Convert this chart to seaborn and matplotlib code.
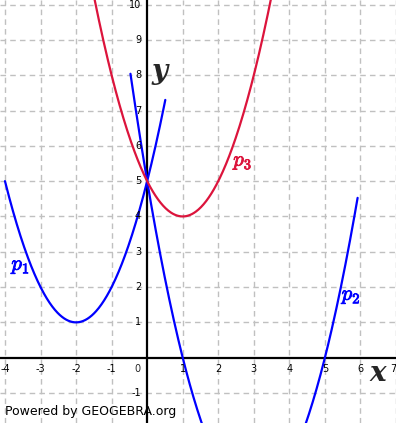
import numpy as np
import pandas as pd
import matplotlib
matplotlib.use("Agg")
import matplotlib.pyplot as plt
import matplotlib.patheffects as pe
import seaborn as sns

# ---- data ----
curve_names = ["p1", "p2", "p3"]
vertex_x = [-2.0, 3.0, 1.0]          # vertex positions
vertex_y = [1.0, -4.0, 4.0]
lead_coef = [1.0, 1.0, 1.0]
domain_start = [-4.0, -0.47, -1.7]
domain_end = [0.51, 5.92, 3.7]
curve_colors = ["#0000ff", "#0000ff", "#dc143c"]
label_x = [-3.55, 5.75, 2.7]
label_y = [2.6, 1.75, 5.55]
label_text = [r"$p_1$", r"$p_2$", r"$p_3$"]

x_ticks = [-4, -3, -2, -1, 1, 2, 3, 4, 5, 6, 7]
y_ticks = [-1, 1, 2, 3, 4, 5, 6, 7, 8, 9, 10]

rows = []
for name, vx, vy, a, x0, x1 in zip(curve_names, vertex_x, vertex_y, lead_coef,
                                    domain_start, domain_end):
    xs = np.linspace(x0, x1, 300)
    for xv in xs:
        rows.append({"curve": name, "x": xv, "y": a * (xv - vx) ** 2 + vy})
df = pd.DataFrame(rows)

sns.set_style("white")
plt.rcParams["mathtext.fontset"] = "cm"

fig = plt.figure(figsize=(3.96, 4.23), dpi=100)
ax = fig.add_axes([0, 0, 1, 1])
xmin, xmax = -4.14, 7.0
ymin, ymax = -1.85, 10.13
ax.set_xlim(xmin, xmax)
ax.set_ylim(ymin, ymax)

# grid
for gx in range(-4, 8):
    if gx != 0:
        ax.axvline(gx, color="#c0c0c0", lw=1, ls=(0, (4, 3)), zorder=0)
for gy in range(-1, 11):
    if gy != 0:
        ax.axhline(gy, color="#c0c0c0", lw=1, ls=(0, (4, 3)), zorder=0)

# axes
ax.axhline(0, color="black", lw=1.6, zorder=1)
ax.axvline(0, color="black", lw=1.6, zorder=1)

sns.lineplot(data=df, x="x", y="y", hue="curve", palette=dict(zip(curve_names, curve_colors)),
             sort=False, estimator=None, lw=1.6, legend=False, ax=ax, zorder=3)

for s in ax.spines.values():
    s.set_visible(False)
ax.set_xticks([])
ax.set_yticks([])
ax.set_xlabel("")
ax.set_ylabel("")

for t in x_ticks:
    if t == 7:
        ax.text(t + 0.02, -0.32, str(t), ha="right", va="center", fontsize=7, color="black")
    else:
        ax.text(t, -0.32, str(t), ha="center", va="center", fontsize=7, color="black")
ax.text(-0.27, -0.32, "0", ha="center", va="center", fontsize=7)
for t in y_ticks:
    ax.text(-0.17, t, str(t), ha="right", va="center", fontsize=7, color="black")

for lx, ly, lt, c in zip(label_x, label_y, label_text, curve_colors):
    ax.text(lx, ly, lt, color=c, fontsize=15, ha="center", va="center",
            path_effects=[pe.withStroke(linewidth=0.6, foreground=c)])

ax.text(6.5, -0.45, "x", family="DejaVu Serif", style="italic", weight="bold",
        fontsize=20, ha="center", va="center")
ax.text(0.35, 8.1, "y", family="DejaVu Serif", style="italic", weight="bold",
        fontsize=20, ha="center", va="center")

fig.text(5 / 396, 1 - 411 / 423, "Powered by GEOGEBRA.org", fontsize=9,
         ha="left", va="center", color="black")

fig.savefig("out.png", dpi=100)
